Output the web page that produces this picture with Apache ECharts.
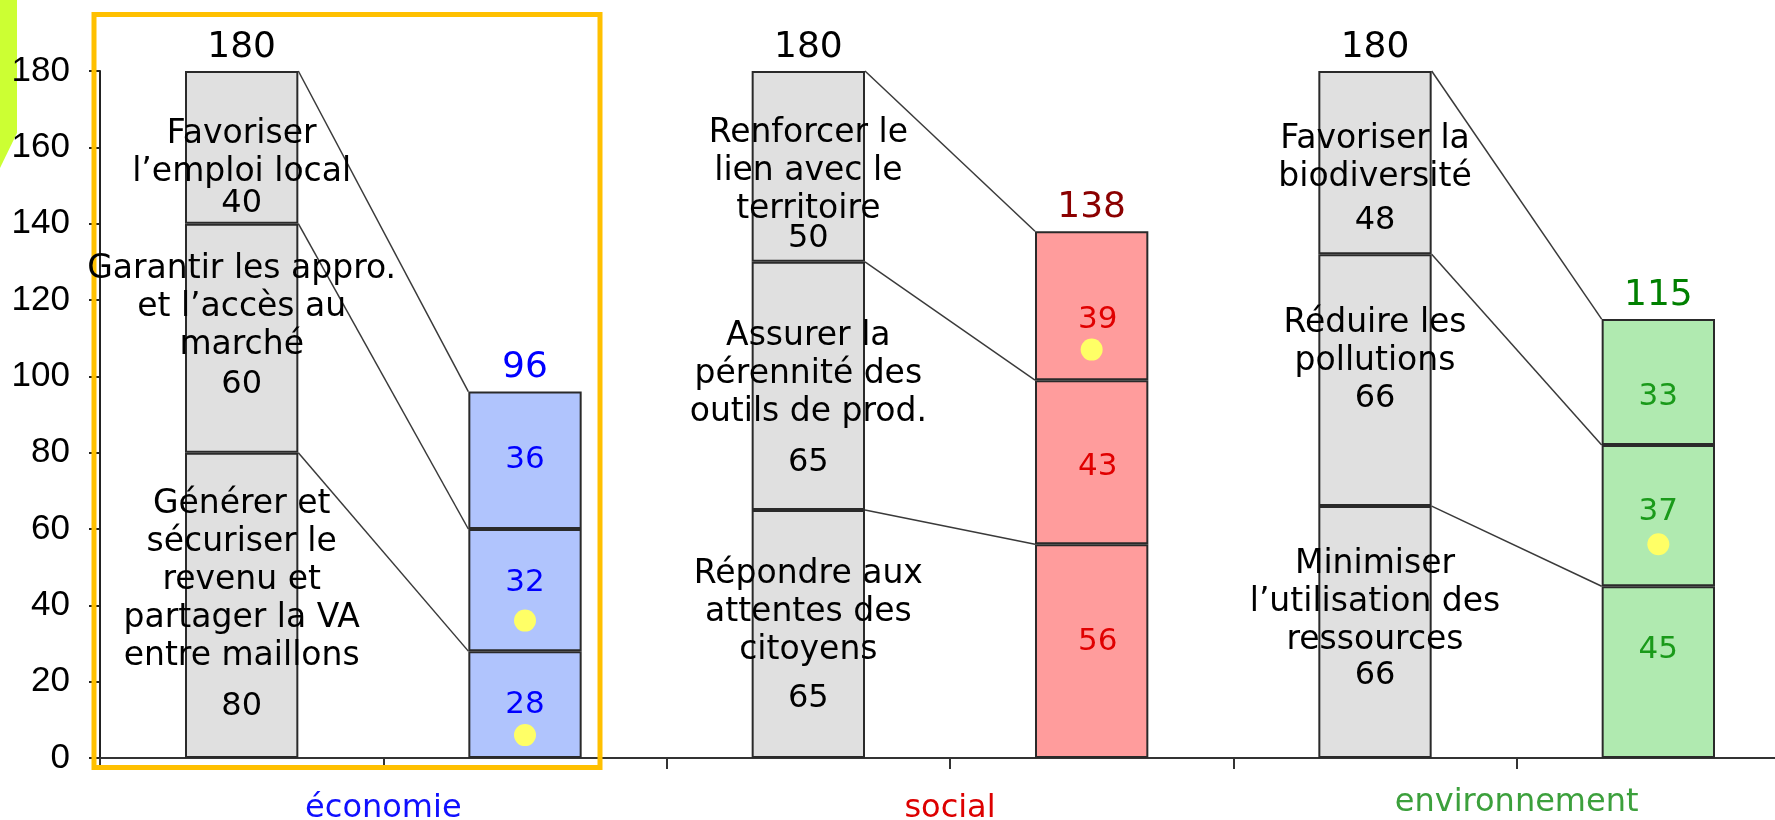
<!DOCTYPE html>
<html><head><meta charset="utf-8">
<script src="https://cdn.jsdelivr.net/npm/echarts@6/dist/echarts.min.js"></script>
<style>html,body{margin:0;padding:0;background:#fff}#c{width:1775px;height:820px}</style>
</head><body><div id="c"></div>
<script>
// ---------- DATA ----------
const pillars = ['économie', 'social', 'environnement'];
// objective (grey) and result (coloured) values, bottom -> top
const econTargets = [80, 60, 40];
const econResults = [28, 32, 36];
const socialTargets = [65, 65, 50];
const socialResults = [56, 43, 39];
const envTargets = [66, 66, 48];
const envResults = [45, 37, 33];
const econObjectives = ['Générer et\nsécuriser le\nrevenu et\npartager la VA\nentre maillons', 'Garantir les appro.\net l’accès au\nmarché', 'Favoriser\nl’emploi local'];
const socialObjectives = ['Répondre aux\nattentes des\ncitoyens', 'Assurer la\npérennité des\noutils de prod.', 'Renforcer le\nlien avec le\nterritoire'];
const envObjectives = ['Minimiser\nl’utilisation des\nressources', 'Réduire les\npollutions', 'Favoriser la\nbiodiversité'];
// yellow markers: [slot index, value]
const highlightDots = [[1, 6], [1, 36], [3, 107], [5, 56]];
const yMin = 0, yMax = 180, yStep = 20;

// ---------- STYLE ----------
const greyFill = '#e0e0e0';
const resultFill = ['#b0c4fd', '#ff9c9c', '#b0eab0'];
const resultText = ['#0000ff', '#e00000', '#1a9a1a'];
const totalText = ['#000000', '#0000ff', '#000000', '#8b0000', '#000000', '#008000'];
const pillarText = ['#1010ff', '#dd0000', '#3ca03c'];
// per pillar, per level: [vertical nudge, number line height]
const targetNudge = [[[6, 62], [-10, 42], [18, 24]], [[8, 60], [20, 62], [15, 20]], [[-13, 34], [-19, 38], [20, 48]]];
const resultNudge = [[[0, 0], [-7, 0], [0, 0]], [[-9, 6], [5, 6], [14, 6]], [[-22, 0], [-4, 0], [15, 0]]];
const TXT = 'DejaVu Sans';

// ---------- BUILD ----------
const targets = [econTargets, socialTargets, envTargets];
const results = [econResults, socialResults, envResults];
const objectives = [econObjectives, socialObjectives, envObjectives];
const slots = [];
pillars.forEach(p => { slots.push(p + ' objectif'); slots.push(p + ' résultat'); });

const rich = {
  t: { fontFamily: TXT, fontSize: 33, lineHeight: 38, color: '#000' }
};
for (let p = 0; p < 3; p++) for (let k = 0; k < 3; k++) {
  rich['n' + p + k] = { fontFamily: TXT, fontSize: 32, lineHeight: targetNudge[p][k][1], color: '#000' };
}
for (let p = 0; p < 3; p++) rich['r' + p] = { fontFamily: TXT, fontSize: 31, color: resultText[p] };

const barSeries = [0, 1, 2].map(k => ({
  type: 'bar', stack: 'total', barWidth: '40%', xAxisIndex: 0, z: 3,
  itemStyle: { borderColor: '#2a2a2a', borderWidth: 2 },
  label: {
    show: true, position: 'inside',
    formatter: prm => {
      const i = prm.dataIndex, p = Math.floor(i / 2);
      if (i % 2 === 0) return '{t|' + objectives[p][k] + '}\n{n' + p + k + '|' + prm.value + '}';
      return '{r' + p + '|' + prm.value + '}';
    },
    rich: rich
  },
  data: slots.map((s, i) => {
    const p = Math.floor(i / 2), isT = i % 2 === 0;
    const v = isT ? targets[p][k] : results[p][k];
    const off = isT ? [0, targetNudge[p][k][0]] : [resultNudge[p][k][1], resultNudge[p][k][0]];
    return { value: v, itemStyle: { color: isT ? greyFill : resultFill[p] }, label: { offset: off } };
  })
}));

const sum = a => a.reduce((x, y) => x + y, 0);
const totals = [];
for (let p = 0; p < 3; p++) { totals.push([2 * p, sum(targets[p])]); totals.push([2 * p + 1, sum(results[p])]); }

const connectors = [];
for (let p = 0; p < 3; p++) {
  let ct = 0, cr = 0;
  for (let k = 0; k < 3; k++) {
    ct += targets[p][k]; cr += results[p][k];
    connectors.push([2 * p, 2 * p + 1, ct, cr]);
  }
}

const option = {
  animation: false,
  backgroundColor: '#ffffff',
  grid: { left: 100, right: -25, top: 71, bottom: 62, containLabel: false, outerBoundsMode: 'none' },
  xAxis: [
    {
      type: 'category', data: slots, position: 'bottom',
      axisLine: { show: true, lineStyle: { color: '#333', width: 2 } },
      axisTick: { show: true, interval: 0, length: 11, lineStyle: { color: '#333', width: 2 } },
      axisLabel: { show: false }, splitLine: { show: false }
    },
    {
      type: 'category', data: pillars, position: 'bottom',
      axisLine: { show: false }, axisTick: { show: false }, splitLine: { show: false },
      axisLabel: {
        margin: 29, interval: 0,
        formatter: (v, i) => '{c' + i + '|' + v + '}',
        rich: {
          c0: { fontFamily: TXT, fontSize: 32, color: pillarText[0], padding: [6, 0, 0, 0] },
          c1: { fontFamily: TXT, fontSize: 32, color: pillarText[1], padding: [6, 0, 0, 0] },
          c2: { fontFamily: TXT, fontSize: 32, color: pillarText[2] }
        }
      }
    }
  ],
  yAxis: {
    type: 'value', min: yMin, max: yMax, interval: yStep,
    axisLine: { show: true, lineStyle: { color: '#222', width: 2 } },
    axisTick: { show: true, length: 11, lineStyle: { color: '#222', width: 2 } },
    splitLine: { show: false },
    axisLabel: { fontFamily: 'Liberation Sans', fontSize: 35, color: '#000', margin: 30 }
  },
  series: [
    {
      type: 'custom', xAxisIndex: 0, z: 2, silent: true,
      encode: { x: [0, 1], y: [2, 3] },
      renderItem: (params, api) => {
        const a = api.coord([api.value(0), api.value(2)]);
        const b = api.coord([api.value(1), api.value(3)]);
        const hw = api.size([1, 0])[0] * 0.2;
        return { type: 'line', shape: { x1: a[0] + hw, y1: a[1], x2: b[0] - hw, y2: b[1] },
                 style: { stroke: '#3a3a3a', lineWidth: 1.5 } };
      },
      data: connectors
    },
    ...barSeries,
    {
      type: 'scatter', xAxisIndex: 0, z: 5, symbolSize: 22,
      itemStyle: { color: '#ffff66', opacity: 1 },
      data: highlightDots
    },
    {
      type: 'scatter', xAxisIndex: 0, z: 5, symbolSize: 1,
      itemStyle: { color: 'rgba(255,255,255,0)', opacity: 1 },
      label: {
        show: true, position: 'top', distance: 4,
        fontFamily: TXT, fontSize: 36, lineHeight: 38, opacity: 1,
        formatter: prm => prm.value[1]
      },
      data: totals.map((d, i) => ({ value: d, label: { color: totalText[i] } }))
    }
  ],
  graphic: [
    { type: 'polygon', z: -1, shape: { points: [[0, 0], [17, 0], [17, 133], [0, 168]] }, style: { fill: '#ccff33' } },
    { type: 'rect', z: 1, shape: { x: 94, y: 14.5, width: 506, height: 753 }, style: { fill: 'none', stroke: '#ffc000', lineWidth: 5 } }
  ]
};
const chart = echarts.init(document.getElementById('c'), null, { renderer: 'canvas' });
chart.setOption(option);
</script>
</body></html>
